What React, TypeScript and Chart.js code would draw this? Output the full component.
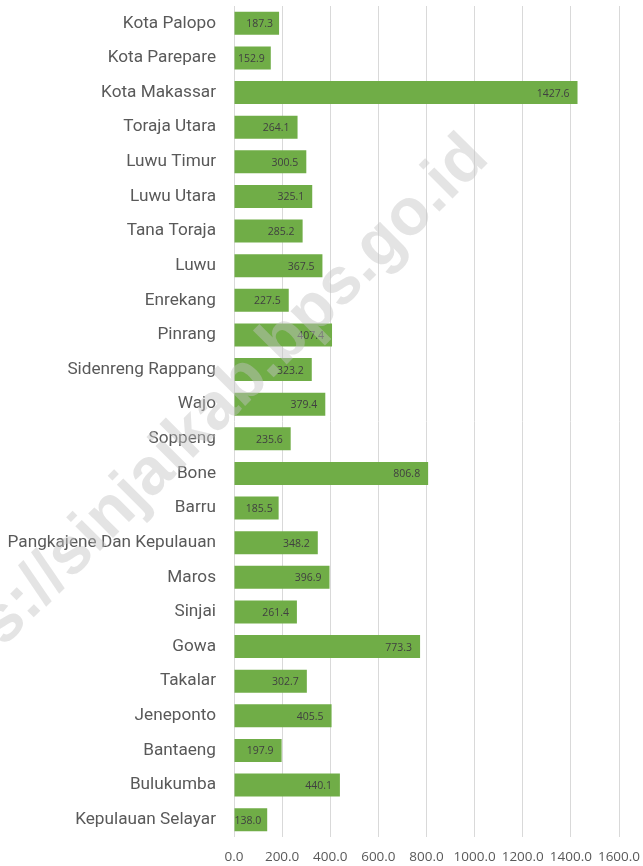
import React, { useEffect, useRef } from "react";
import { Chart, registerables } from "chart.js";

Chart.register(...registerables);

const categories = [
  "Kota Palopo", "Kota Parepare", "Kota Makassar", "Toraja Utara", "Luwu Timur",
  "Luwu Utara", "Tana Toraja", "Luwu", "Enrekang", "Pinrang", "Sidenreng Rappang",
  "Wajo", "Soppeng", "Bone", "Barru", "Pangkajene Dan Kepulauan", "Maros", "Sinjai",
  "Gowa", "Takalar", "Jeneponto", "Bantaeng", "Bulukumba", "Kepulauan Selayar",
];
const values = [
  187.3, 152.9, 1427.6, 264.1, 300.5, 325.1, 285.2, 367.5, 227.5, 407.4, 323.2,
  379.4, 235.6, 806.8, 185.5, 348.2, 396.9, 261.4, 773.3, 302.7, 405.5, 197.9,
  440.1, 138.0,
];
const xMin = 0;
const xMax = 1600;
const xStep = 200;
const watermarkText = "https://sinjaikab.bps.go.id";

const FONT = "'Open Sans', 'Noto Sans', sans-serif";
const CAT_FONT = "Roboto, 'Open Sans', sans-serif";

const valueLabels = {
  id: "valueLabels",
  afterDatasetsDraw(chart: any) {
    const ctx = chart.ctx;
    const meta = chart.getDatasetMeta(0);
    ctx.save();
    ctx.font = `10.5px ${FONT}`;
    ctx.fillStyle = "#404040";
    ctx.textAlign = "right";
    ctx.textBaseline = "middle";
    meta.data.forEach((bar: any, i: number) => {
      const off = bar.x - bar.base < 45 ? 6 : 8;
      ctx.fillText(values[i].toFixed(1), bar.x - off, bar.y + 1);
    });
    ctx.restore();
  },
};

const watermark = {
  id: "watermark",
  afterDraw(chart: any) {
    const ctx = chart.ctx;
    ctx.save();
    ctx.translate(203, 448);
    ctx.rotate(-Math.PI / 4);
    ctx.font = `bold 66px 'Liberation Sans', Arial, sans-serif`;
    ctx.fillStyle = "rgba(195,195,195,0.45)";
    ctx.textAlign = "center";
    ctx.textBaseline = "alphabetic";
    ctx.fillText(watermarkText, 0, 0);
    ctx.restore();
  },
};

export default function App() {
  const ref = useRef<HTMLCanvasElement>(null);
  useEffect(() => {
    if (!ref.current) return;
    const chart = new Chart(ref.current, {
      type: "bar",
      data: {
        labels: categories,
        datasets: [
          {
            data: values,
            backgroundColor: "#70AD47",
            borderWidth: 0,
            categoryPercentage: 1,
            barPercentage: 0.664,
          },
        ],
      },
      options: {
        indexAxis: "y",
        animation: false,
        responsive: false,
        maintainAspectRatio: false,
        layout: { padding: { top: 6, right: 24, left: 0, bottom: 0 } },
        plugins: {
          legend: { display: false },
          tooltip: { enabled: false },
        },
        scales: {
          x: {
            min: xMin,
            max: xMax,
            ticks: {
              stepSize: xStep,
              callback: (v: any) => Number(v).toFixed(1),
              color: "#595959",
              font: { family: FONT, size: 13.5 },
              padding: 12,
              maxRotation: 0,
              autoSkip: false,
            },
            grid: { color: "#d9d9d9", drawTicks: false, lineWidth: 1 },
            border: { display: false },
            afterFit: (s: any) => {
              s.height = 29;
              s.paddingLeft = 0;
              s.paddingRight = 0;
            },
          },
          y: {
            ticks: {
              color: "#595959",
              font: { family: CAT_FONT, size: 17.2 },
              padding: 18,
              autoSkip: false,
            },
            grid: { display: false, drawTicks: false },
            border: { display: false },
            afterFit: (s: any) => {
              s.width = 234;
              s.paddingTop = 0;
              s.paddingBottom = 0;
            },
          },
        },
      },
      plugins: [valueLabels, watermark],
    });
    return () => chart.destroy();
  }, []);
  return (
    <div style={{ position: "fixed", left: 0, top: 0, width: 643, height: 866, background: "#fff" }}>
      <canvas ref={ref} width={643} height={866} style={{ width: 643, height: 866, display: "block" }} />
    </div>
  );
}
